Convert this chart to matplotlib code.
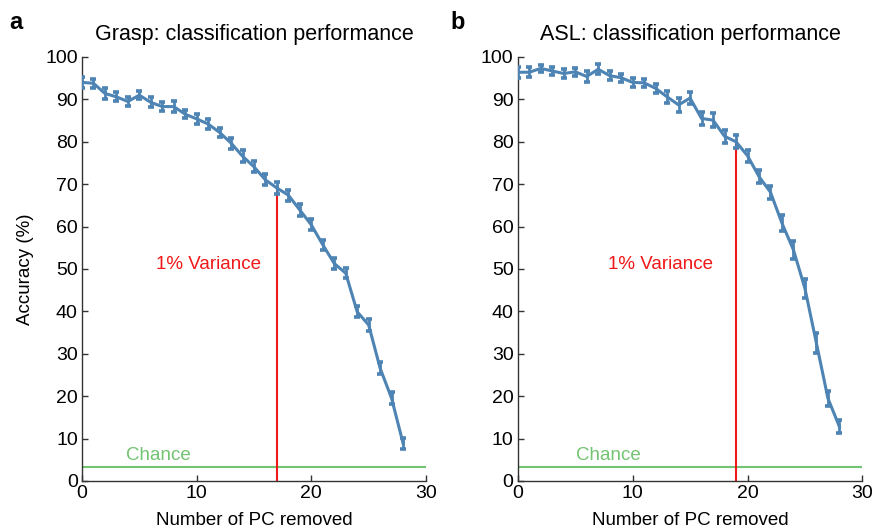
import matplotlib
matplotlib.use("Agg")
import matplotlib.pyplot as plt
import numpy as np

plt.rcParams['font.family'] = ['Liberation Sans', 'DejaVu Sans']

# number of PCs removed
pcs = list(range(29))

# Grasp accuracy (%) and error bars
grasp_acc = [94.0, 93.8, 91.4, 90.6, 89.5, 91.0, 89.3, 88.3, 88.3, 86.5,
             85.4, 84.2, 82.2, 79.7, 76.6, 74.1, 71.0, 69.1, 67.4, 63.9,
             60.4, 55.7, 51.3, 49.0, 39.9, 36.8, 26.6, 19.5, 8.9]
grasp_err = [1.2, 1.0, 1.2, 1.1, 1.0, 1.0, 1.2, 1.1, 1.2, 1.0,
             1.1, 1.2, 1.1, 1.3, 1.4, 1.3, 1.3, 1.4, 1.3, 1.4,
             1.3, 1.2, 1.2, 1.2, 1.3, 1.4, 1.4, 1.4, 1.3]

# ASL accuracy (%) and error bars
asl_acc = [96.4, 96.4, 97.3, 96.7, 96.1, 96.5, 95.4, 97.1, 95.6, 95.1,
           94.0, 93.9, 92.6, 90.6, 88.7, 90.3, 85.5, 85.1, 81.3, 80.0,
           76.7, 71.8, 68.1, 60.8, 54.5, 45.4, 32.5, 19.5, 12.8]
asl_err = [1.3, 1.2, 0.8, 0.9, 1.0, 0.9, 1.4, 1.2, 1.1, 0.9,
           1.1, 1.0, 1.1, 1.4, 1.6, 1.4, 1.6, 1.7, 1.5, 1.5,
           1.4, 1.6, 1.5, 1.9, 2.1, 2.2, 2.3, 1.8, 1.5]

chance = 3.3
cutoffs = [17, 19]
titles = ["Grasp: classification performance", "ASL: classification performance"]
variance_pos = [(11.0, 51.0), (12.4, 51.0)]
chance_pos = [(6.7, 6.1), (7.9, 6.1)]

line_col = "#4d84b4"
red = "#f01818"
green = "#72c472"

fig = plt.figure(figsize=(8.74, 5.30), dpi=100)
axes = [fig.add_axes([0.0938, 0.0925, 0.3936, 0.80]),
        fig.add_axes([0.5924, 0.0925, 0.3943, 0.80])]

datasets = [(grasp_acc, grasp_err), (asl_acc, asl_err)]

for i, ax in enumerate(axes):
    acc, err = datasets[i]
    ax.axhline(chance, color=green, lw=1.5, zorder=1)
    ax.plot([cutoffs[i], cutoffs[i]], [0, acc[cutoffs[i]]], color=red, lw=1.5, zorder=1)
    ax.errorbar(pcs, acc, yerr=err, color=line_col, lw=2.2, elinewidth=2.0,
                capsize=2.2, capthick=2.6, zorder=3)
    ax.text(variance_pos[i][0], variance_pos[i][1], "1% Variance", color=red,
            fontsize=13.5, ha="center", va="center")
    ax.text(chance_pos[i][0], chance_pos[i][1], "Chance", color=green,
            fontsize=13.5, ha="center", va="center")

    ax.set_xlim(0, 30)
    ax.set_ylim(0, 100)
    ax.set_xticks([0, 10, 20, 30])
    ax.set_yticks(range(0, 101, 10))
    ax.spines['top'].set_visible(False)
    ax.spines['right'].set_visible(False)
    for s in ['left', 'bottom']:
        ax.spines[s].set_color("#333333")
        ax.spines[s].set_linewidth(1.0)
    ax.tick_params(direction="in", length=4, width=1, colors="#333333",
                   labelcolor="black", labelsize=14, pad=3)
    ax.set_xlabel("Number of PC removed", fontsize=13.5, labelpad=7)
    ax.set_title(titles[i], fontsize=15.5, pad=12)

axes[0].set_ylabel("Accuracy (%)", fontsize=13.5, labelpad=8)

fig.text(0.011, 0.958, "a", fontsize=17, fontweight="bold", va="center")
fig.text(0.515, 0.958, "b", fontsize=17, fontweight="bold", va="center")

fig.savefig("out.png", dpi=100)
